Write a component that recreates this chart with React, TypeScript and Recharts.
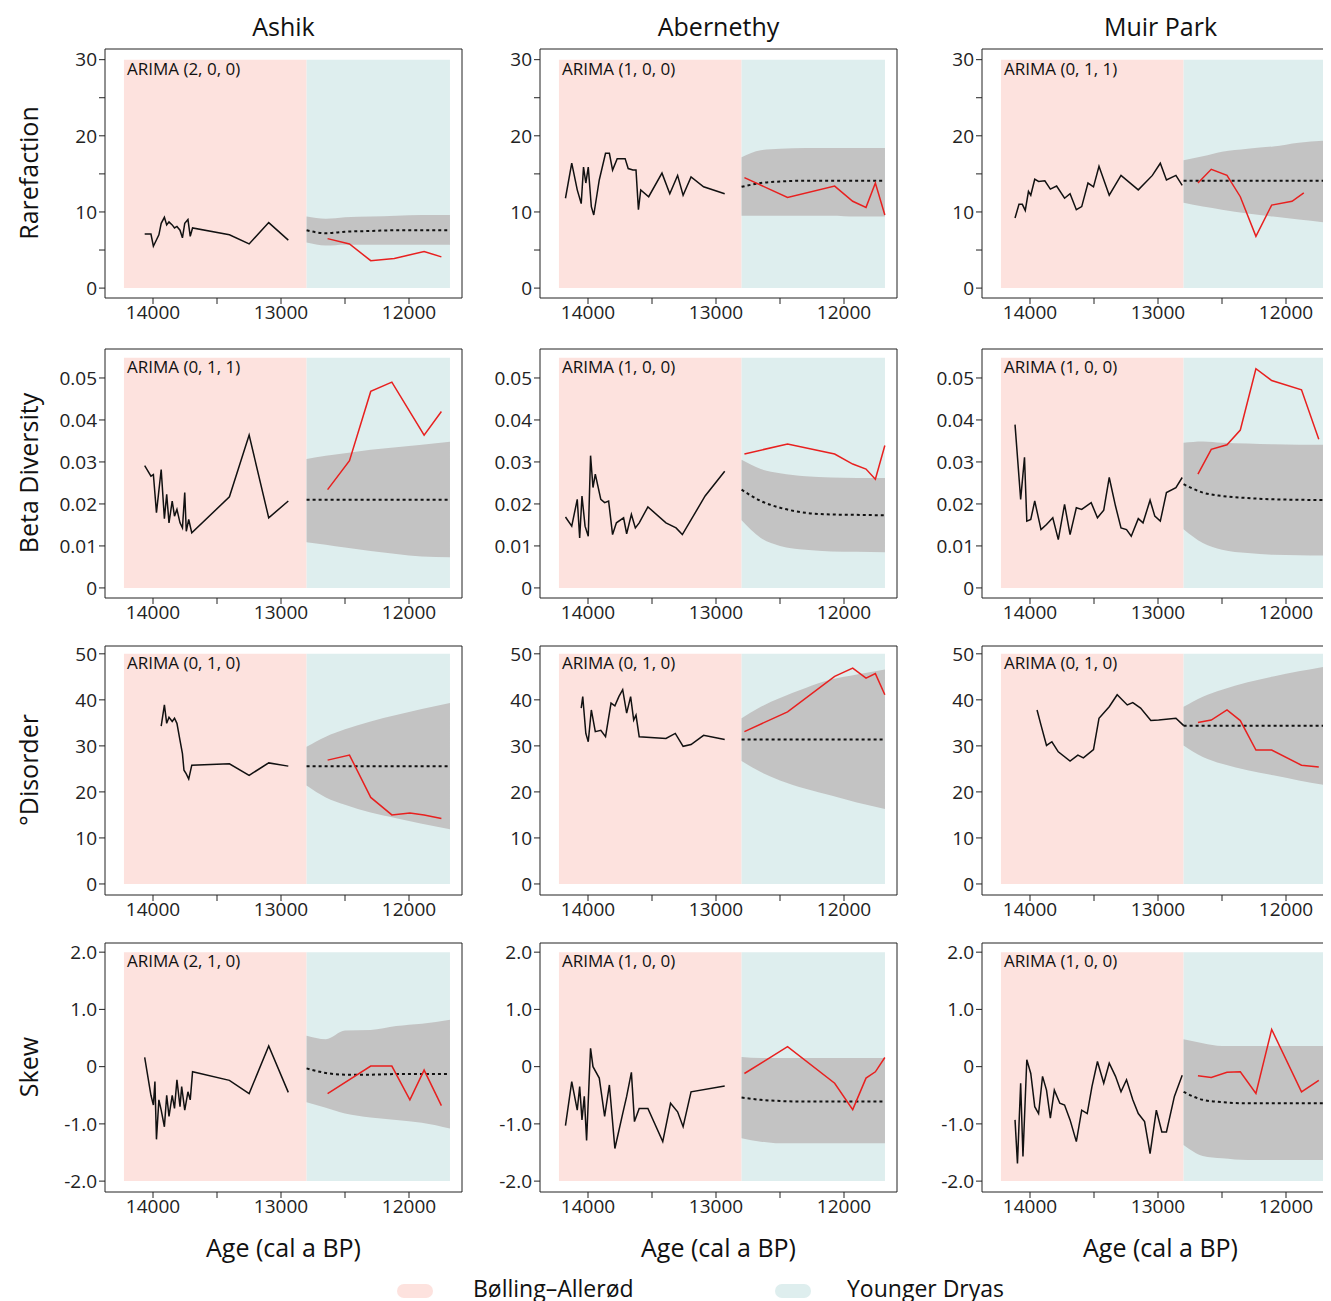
import * as React from 'react';
import {
    ComposedChart,
    Line,
    Area,
    XAxis,
    YAxis,
    ReferenceArea
} from 'recharts';

type Pt = [number, number];

// forecast time grid (cal a BP) shared by all panels
const FC_YEARS = [12800, 12650, 12500, 12300, 12100, 11900, 11680];

const SITES = ['Ashik', 'Abernethy', 'Muir Park'];
const METRICS = ['Rarefaction', 'Beta Diversity', '°Disorder', 'Skew'];

// ---- Rarefaction ----
const ashikRareObs: Pt[] = [[14065,7.1],[14016,7.1],[13997,5.5],[13954,7.0],[13936,8.5],[13911,9.3],[13893,8.3],[13875,8.7],[13850,8.3],[13832,7.9],[13813,8.1],[13789,7.6],[13770,6.6],[13752,8.5],[13727,9.0],[13709,6.8],[13691,7.9],[13403,7.0],[13249,5.8],[13096,8.6],[12943,6.3]];
const ashikRareYD: Pt[] = [[12636,6.5],[12465,5.8],[12299,3.6],[12115,3.9],[11882,4.8],[11747,4.1]];
const ashikRareHi = [9.4, 9.1, 9.3, 9.4, 9.5, 9.6, 9.6];
const ashikRareMid = [7.6, 7.2, 7.4, 7.5, 7.6, 7.6, 7.6];
const ashikRareLo = [6.0, 5.6, 5.7, 5.7, 5.7, 5.7, 5.7];

const aberRareObs: Pt[] = [[14176,11.8],[14127,16.4],[14084,12.9],[14053,11.1],[14035,15.9],[14017,13.8],[13998,15.9],[13974,10.7],[13955,9.6],[13912,14.2],[13863,17.7],[13833,17.7],[13808,15.5],[13772,17.0],[13710,17.0],[13686,15.7],[13649,15.5],[13625,15.5],[13606,10.3],[13588,12.9],[13526,12.0],[13422,15.1],[13361,12.4],[13300,14.8],[13257,12.2],[13195,14.6],[13097,13.3],[12932,12.4]];
const aberRareYD: Pt[] = [[12778,14.5],[12441,11.9],[12073,13.4],[11932,11.4],[11828,10.6],[11755,13.8],[11681,9.6]];
const aberRareHi = [17.2, 18.1, 18.3, 18.4, 18.4, 18.4, 18.4];
const aberRareMid = [13.3, 13.8, 14.0, 14.1, 14.1, 14.1, 14.1];
const aberRareLo = [9.5, 9.5, 9.5, 9.5, 9.5, 9.4, 9.4];

const muirRareObs: Pt[] = [[14117,9.2],[14086,11.0],[14060,11.0],[14037,10.2],[14012,12.7],[13994,12.2],[13963,14.3],[13933,14.0],[13884,14.1],[13841,13.0],[13792,13.4],[13730,11.8],[13687,12.4],[13638,10.3],[13596,10.7],[13547,13.8],[13504,13.3],[13461,16.0],[13381,12.2],[13289,14.8],[13154,12.9],[13044,14.8],[12982,16.4],[12934,14.2],[12860,14.8],[12811,13.5]];
const muirRareYD: Pt[] = [[12688,13.8],[12584,15.6],[12461,14.8],[12357,12.0],[12235,6.8],[12112,10.9],[11953,11.4],[11861,12.5]];
const muirRareHi = [16.8, 17.3, 17.9, 18.3, 18.6, 19.1, 19.4];
const muirRareMid = [14.1, 14.1, 14.1, 14.1, 14.1, 14.1, 14.1];
const muirRareLo = [11.2, 10.7, 10.3, 9.8, 9.4, 9.0, 8.6];

// ---- Beta diversity ----
const ashikBetaObs: Pt[] = [[14065,0.0291],[14016,0.0266],[13997,0.0270],[13973,0.0179],[13936,0.0282],[13911,0.0165],[13893,0.0223],[13875,0.0155],[13850,0.0207],[13832,0.0171],[13813,0.0187],[13789,0.0155],[13770,0.0143],[13752,0.0227],[13740,0.0135],[13721,0.0163],[13697,0.0131],[13403,0.0217],[13249,0.0364],[13096,0.0167],[12943,0.0207]];
const ashikBetaYD: Pt[] = [[12636,0.0234],[12465,0.0303],[12299,0.0468],[12134,0.0490],[11882,0.0364],[11747,0.0420]];
const ashikBetaHi = [0.0307, 0.0315, 0.0321, 0.0329, 0.0335, 0.0341, 0.0348];
const ashikBetaMid = [0.0210, 0.0210, 0.0210, 0.0210, 0.0210, 0.0210, 0.0210];
const ashikBetaLo = [0.0109, 0.0103, 0.0096, 0.0088, 0.0081, 0.0075, 0.0073];

const aberBetaObs: Pt[] = [[14176,0.0169],[14127,0.0147],[14084,0.0211],[14065,0.0119],[14047,0.0219],[14023,0.0147],[13998,0.0123],[13980,0.0315],[13961,0.0239],[13943,0.0271],[13900,0.0211],[13870,0.0203],[13839,0.0207],[13808,0.0127],[13778,0.0155],[13722,0.0167],[13698,0.0129],[13661,0.0175],[13630,0.0143],[13600,0.0155],[13532,0.0193],[13391,0.0155],[13312,0.0143],[13263,0.0127],[13085,0.0219],[12932,0.0278]];
const aberBetaYD: Pt[] = [[12778,0.0319],[12441,0.0343],[12073,0.0319],[11932,0.0295],[11828,0.0283],[11755,0.0259],[11681,0.0339]];
const aberBetaHi = [0.0305, 0.0283, 0.0273, 0.0266, 0.0263, 0.0262, 0.0262];
const aberBetaMid = [0.0234, 0.0207, 0.0191, 0.0179, 0.0175, 0.0174, 0.0173];
const aberBetaLo = [0.0161, 0.0119, 0.0100, 0.0091, 0.0087, 0.0086, 0.0085];

const muirBetaObs: Pt[] = [[14117,0.0389],[14073,0.0211],[14043,0.0311],[14025,0.0159],[13994,0.0163],[13963,0.0207],[13914,0.0139],[13871,0.0151],[13822,0.0167],[13779,0.0115],[13730,0.0199],[13687,0.0127],[13638,0.0191],[13596,0.0187],[13522,0.0203],[13473,0.0167],[13424,0.0185],[13381,0.0263],[13332,0.0195],[13289,0.0143],[13246,0.0139],[13209,0.0123],[13154,0.0165],[13117,0.0155],[13062,0.0209],[13025,0.0171],[12982,0.0159],[12934,0.0227],[12860,0.0239],[12811,0.0263]];
const muirBetaYD: Pt[] = [[12688,0.0271],[12584,0.0330],[12461,0.0341],[12357,0.0376],[12235,0.0522],[12112,0.0494],[11879,0.0472],[11744,0.0354]];
const muirBetaHi = [0.0346, 0.0349, 0.0346, 0.0344, 0.0342, 0.0341, 0.0341];
const muirBetaMid = [0.0247, 0.0227, 0.0219, 0.0214, 0.0211, 0.0210, 0.0209];
const muirBetaLo = [0.0140, 0.0107, 0.0091, 0.0083, 0.0079, 0.0078, 0.0077];

// ---- °Disorder ----
const ashikDisObs: Pt[] = [[13936,34.3],[13911,38.9],[13893,34.9],[13875,36.2],[13850,35.3],[13832,36.0],[13813,34.9],[13789,31.2],[13770,28.3],[13758,24.7],[13740,23.9],[13721,22.8],[13697,25.8],[13403,26.1],[13249,23.6],[13096,26.3],[12943,25.6]];
const ashikDisYD: Pt[] = [[12636,26.9],[12465,28.0],[12299,18.8],[12134,15.0],[11993,15.4],[11882,15.0],[11747,14.2]];
const ashikDisHi = [29.8, 32.0, 33.6, 35.3, 36.7, 38.0, 39.3];
const ashikDisMid = [25.6, 25.6, 25.6, 25.6, 25.6, 25.6, 25.6];
const ashikDisLo = [21.4, 18.8, 17.2, 15.5, 14.3, 13.1, 11.9];

const aberDisObs: Pt[] = [[14053,38.2],[14041,40.7],[14017,32.7],[13998,30.9],[13974,37.8],[13943,33.1],[13900,33.4],[13863,32.0],[13820,39.3],[13790,38.7],[13759,40.7],[13729,42.2],[13698,37.1],[13667,40.7],[13643,35.6],[13625,36.7],[13600,32.0],[13391,31.6],[13318,32.7],[13257,29.9],[13195,30.3],[13097,32.3],[12932,31.4]];
const aberDisYD: Pt[] = [[12778,33.1],[12441,37.4],[12073,45.1],[11932,46.9],[11828,44.7],[11755,45.7],[11681,41.1]];
const aberDisHi = [36.0, 38.5, 40.4, 42.6, 44.4, 45.5, 46.6];
const aberDisMid = [31.4, 31.4, 31.4, 31.4, 31.4, 31.4, 31.4];
const aberDisLo = [26.7, 24.3, 22.5, 20.7, 19.2, 17.7, 16.3];

const muirDisObs: Pt[] = [[13945,37.8],[13914,34.5],[13871,30.1],[13829,30.9],[13779,28.7],[13687,26.7],[13626,28.0],[13583,27.4],[13504,29.2],[13461,36.0],[13381,38.5],[13319,41.1],[13240,38.9],[13197,39.4],[13136,38.2],[13056,35.5],[12995,35.6],[12860,36.0],[12799,34.4]];
const muirDisYD: Pt[] = [[12688,35.1],[12584,35.6],[12461,37.8],[12357,35.5],[12235,29.1],[12112,29.1],[11879,25.8],[11744,25.4]];
const muirDisHi = [38.5, 40.7, 42.2, 43.8, 45.1, 46.2, 47.3];
const muirDisMid = [34.4, 34.4, 34.4, 34.4, 34.4, 34.4, 34.4];
const muirDisLo = [30.1, 27.6, 26.1, 24.7, 23.6, 22.5, 21.4];

// ---- Skew ----
const ashikSkewObs: Pt[] = [[14065,0.16],[14016,-0.50],[13997,-0.67],[13985,-0.26],[13973,-1.27],[13954,-0.58],[13936,-0.76],[13911,-1.05],[13893,-0.50],[13875,-0.87],[13850,-0.50],[13832,-0.73],[13813,-0.23],[13789,-0.70],[13776,-0.35],[13752,-0.76],[13727,-0.44],[13709,-0.58],[13691,-0.09],[13403,-0.24],[13249,-0.47],[13096,0.36],[12943,-0.45]];
const ashikSkewYD: Pt[] = [[12636,-0.47],[12299,0.01],[12134,0.01],[11993,-0.58],[11882,-0.06],[11747,-0.68]];
const ashikSkewHi = [0.54, 0.48, 0.63, 0.64, 0.71, 0.75, 0.82];
const ashikSkewMid = [-0.03, -0.11, -0.14, -0.14, -0.13, -0.13, -0.13];
const ashikSkewLo = [-0.62, -0.72, -0.82, -0.89, -0.93, -0.98, -1.08];

const aberSkewObs: Pt[] = [[14176,-1.03],[14127,-0.26],[14084,-0.76],[14065,-0.35],[14047,-0.93],[14029,-0.52],[14011,-1.29],[13992,-0.29],[13980,0.32],[13961,0.0],[13912,-0.20],[13870,-0.87],[13833,-0.32],[13790,-1.43],[13729,-0.82],[13698,-0.52],[13661,-0.10],[13637,-0.96],[13600,-0.73],[13532,-0.73],[13416,-1.31],[13355,-0.64],[13300,-0.79],[13257,-1.05],[13195,-0.44],[12932,-0.34]];
const aberSkewYD: Pt[] = [[12778,-0.12],[12441,0.35],[12073,-0.29],[11932,-0.75],[11828,-0.20],[11755,-0.09],[11681,0.16]];
const aberSkewHi = [0.17, 0.15, 0.15, 0.15, 0.15, 0.15, 0.15];
const aberSkewMid = [-0.54, -0.58, -0.60, -0.61, -0.61, -0.61, -0.61];
const aberSkewLo = [-1.25, -1.31, -1.34, -1.34, -1.34, -1.34, -1.34];

const muirSkewObs: Pt[] = [[14117,-0.93],[14098,-1.69],[14073,-0.29],[14055,-1.57],[14025,0.12],[13994,-0.12],[13963,-0.70],[13933,-0.82],[13902,-0.17],[13871,-0.41],[13841,-0.90],[13810,-0.41],[13767,-0.64],[13730,-0.67],[13687,-0.93],[13638,-1.31],[13596,-0.76],[13553,-0.82],[13516,-0.35],[13473,0.09],[13424,-0.29],[13381,0.06],[13332,-0.17],[13289,-0.44],[13246,-0.23],[13197,-0.58],[13154,-0.82],[13105,-0.96],[13062,-1.52],[13013,-0.76],[12970,-1.14],[12934,-1.14],[12872,-0.52],[12811,-0.15]];
const muirSkewYD: Pt[] = [[12688,-0.16],[12584,-0.19],[12461,-0.10],[12357,-0.09],[12235,-0.47],[12112,0.65],[11879,-0.44],[11744,-0.24]];
const muirSkewHi = [0.48, 0.41, 0.36, 0.36, 0.36, 0.36, 0.36];
const muirSkewMid = [-0.44, -0.58, -0.62, -0.64, -0.64, -0.64, -0.64];
const muirSkewLo = [-1.37, -1.56, -1.60, -1.63, -1.63, -1.63, -1.63];

const ARIMA = [
    ['(2, 0, 0)', '(1, 0, 0)', '(0, 1, 1)'],
    ['(0, 1, 1)', '(1, 0, 0)', '(1, 0, 0)'],
    ['(0, 1, 0)', '(0, 1, 0)', '(0, 1, 0)'],
    ['(2, 1, 0)', '(1, 0, 0)', '(1, 0, 0)']
];

const SERIES = [
    [
        [ashikRareObs, ashikRareYD, ashikRareHi, ashikRareMid, ashikRareLo],
        [aberRareObs, aberRareYD, aberRareHi, aberRareMid, aberRareLo],
        [muirRareObs, muirRareYD, muirRareHi, muirRareMid, muirRareLo]
    ],
    [
        [ashikBetaObs, ashikBetaYD, ashikBetaHi, ashikBetaMid, ashikBetaLo],
        [aberBetaObs, aberBetaYD, aberBetaHi, aberBetaMid, aberBetaLo],
        [muirBetaObs, muirBetaYD, muirBetaHi, muirBetaMid, muirBetaLo]
    ],
    [
        [ashikDisObs, ashikDisYD, ashikDisHi, ashikDisMid, ashikDisLo],
        [aberDisObs, aberDisYD, aberDisHi, aberDisMid, aberDisLo],
        [muirDisObs, muirDisYD, muirDisHi, muirDisMid, muirDisLo]
    ],
    [
        [ashikSkewObs, ashikSkewYD, ashikSkewHi, ashikSkewMid, ashikSkewLo],
        [aberSkewObs, aberSkewYD, aberSkewHi, aberSkewMid, aberSkewLo],
        [muirSkewObs, muirSkewYD, muirSkewHi, muirSkewMid, muirSkewLo]
    ]
] as any;

const Y_CFG = [
    { domain: [-1.3, 31.4], ticks: [0, 5, 10, 15, 20, 25, 30], shade: [0, 30], fmt: (v: number) => (v % 10 === 0 ? String(v) : '') },
    { domain: [-0.0024, 0.0569], ticks: [0, 0.01, 0.02, 0.03, 0.04, 0.05], shade: [0, 0.0548], fmt: (v: number) => (v === 0 ? '0' : v.toFixed(2)) },
    { domain: [-2.4, 51.7], ticks: [0, 10, 20, 30, 40, 50], shade: [0, 50], fmt: (v: number) => String(v) },
    { domain: [-2.19, 2.16], ticks: [-2, -1, 0, 1, 2], shade: [-2, 2], fmt: (v: number) => (v === 0 ? '0' : v.toFixed(1)) }
];

const X_DOMAIN = [11586, 14375];
const X_TICKS = [12000, 12500, 13000, 13500, 14000];

const FONT = '"Open Sans", "Noto Sans", sans-serif';
const BOX_LEFT = [105, 540, 982];
const BOX_TOP = [48, 348, 645, 942];
const YW = 70;
const PW = 357;
const PH = 250;
const MT = 14;

const toRows = (pts: Pt[]) => pts.map(([x, y]) => ({ x, y }));

const Panel = ({ row, col }: { row: number; col: number }) => {
    const [obs, yd, hi, mid, lo] = SERIES[row][col];
    const cfg = Y_CFG[row];
    const fc = FC_YEARS.map((x, i) => ({ x, range: [lo[i], hi[i]], y: mid[i] }));
    const tick = { fill: '#222', fontSize: 19, fontFamily: FONT };
    return (
        <div style={{ position: 'absolute', left: BOX_LEFT[col] - YW - 8, top: BOX_TOP[row] - 8 - MT }}>
            <ComposedChart width={PW + YW + 1} height={PH + 46 + MT} margin={{ top: MT, right: 0, left: 0, bottom: 0 }}>
                <XAxis
                    xAxisId="b"
                    type="number"
                    dataKey="x"
                    reversed
                    domain={X_DOMAIN}
                    ticks={X_TICKS}
                    allowDataOverflow
                    tickFormatter={(v: number) => (v % 1000 === 0 ? String(v) : '')}
                    tick={tick}
                    tickSize={6}
                    height={46}
                    stroke="#222"
                    interval={0}
                />
                <XAxis xAxisId="t" orientation="top" type="number" dataKey="x" reversed domain={X_DOMAIN} height={1} tick={false} tickLine={false} stroke="#222" />
                <YAxis
                    yAxisId="l"
                    type="number"
                    domain={cfg.domain}
                    ticks={cfg.ticks}
                    allowDataOverflow
                    tickFormatter={cfg.fmt}
                    tick={tick}
                    tickSize={6}
                    width={YW}
                    stroke="#222"
                    interval={0}
                />
                <YAxis yAxisId="r" orientation="right" type="number" domain={cfg.domain} width={1} tick={false} tickLine={false} stroke="#222" />
                <ReferenceArea
                    xAxisId="b"
                    yAxisId="l"
                    x1={14227}
                    x2={12800}
                    y1={cfg.shade[0]}
                    y2={cfg.shade[1]}
                    fill="#fde2de"
                    fillOpacity={1}
                    stroke="none"
                    label={{ value: 'ARIMA ' + ARIMA[row][col], position: 'insideTopLeft', offset: 3, fill: '#111', fontSize: 17, fontFamily: FONT }}
                />
                <ReferenceArea xAxisId="b" yAxisId="l" x1={12800} x2={11680} y1={cfg.shade[0]} y2={cfg.shade[1]} fill="#deeeee" fillOpacity={1} stroke="none" />
                <Area xAxisId="b" yAxisId="l" data={fc} dataKey="range" type="monotone" fill="#c3c3c3" fillOpacity={1} stroke="none" isAnimationActive={false} />
                <Line xAxisId="b" yAxisId="l" data={fc} dataKey="y" type="monotone" stroke="#111" strokeWidth={2} strokeDasharray="3 3" dot={false} isAnimationActive={false} />
                <Line xAxisId="b" yAxisId="l" data={toRows(obs)} dataKey="y" type="linear" stroke="#111" strokeWidth={1.5} dot={false} isAnimationActive={false} />
                <Line xAxisId="b" yAxisId="l" data={toRows(yd)} dataKey="y" type="linear" stroke="#e8201f" strokeWidth={1.5} dot={false} isAnimationActive={false} />
            </ComposedChart>
        </div>
    );
};

const App = () => {
    const txt = { position: 'absolute' as const, fontFamily: FONT, color: '#111', whiteSpace: 'nowrap' as const };
    return (
        <div style={{ position: 'relative', width: 1323, height: 1293, overflow: 'hidden' }}>
            {SITES.map((s, c) => (
                <div key={s} style={{ ...txt, left: BOX_LEFT[c] - 8, width: PW, top: 1, textAlign: 'center', fontSize: 25 }}>{s}</div>
            ))}
            {SITES.map((s, c) => (
                <div key={'x' + s} style={{ ...txt, left: BOX_LEFT[c] - 8, width: PW, top: 1222, textAlign: 'center', fontSize: 25 }}>Age (cal a BP)</div>
            ))}
            {METRICS.map((m, r) => (
                <div
                    key={m}
                    style={{ ...txt, left: 28 - 8 - 150, top: BOX_TOP[r] - 8 + 108, width: 300, textAlign: 'center', fontSize: 25, transform: 'rotate(-90deg)' }}
                >
                    {m}
                </div>
            ))}
            {METRICS.map((m, r) => SITES.map((s, c) => <Panel key={m + s} row={r} col={c} />))}
            <div style={{ position: 'absolute', left: 397 - 8, top: 1284 - 8, width: 36, height: 14, borderRadius: 7, background: '#fde2de' }} />
            <div style={{ ...txt, left: 473 - 8, top: 1272 - 8, fontSize: 23 }}>Bølling–Allerød</div>
            <div style={{ position: 'absolute', left: 775 - 8, top: 1284 - 8, width: 36, height: 14, borderRadius: 7, background: '#deeeee' }} />
            <div style={{ ...txt, left: 847 - 8, top: 1272 - 8, fontSize: 23 }}>Younger Dryas</div>
        </div>
    );
};

export default App;
